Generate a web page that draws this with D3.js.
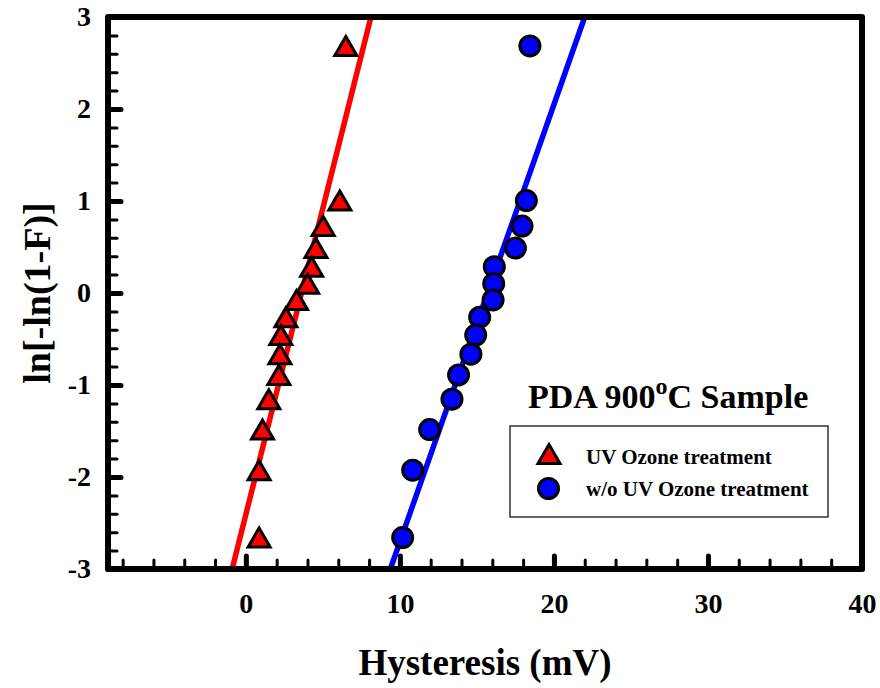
<!DOCTYPE html>
<html>
<head>
<meta charset="utf-8">
<script src="https://cdn.jsdelivr.net/npm/d3@7/dist/d3.min.js"></script>
<style>
  html, body { margin: 0; padding: 0; background: #fff; }
  svg { display: block; }
  text { font-family: "Liberation Serif", "Times New Roman", serif; font-weight: bold; fill: #000; }
</style>
</head>
<body>
<svg id="chart" width="880" height="688"></svg>
<script>
// Weibull plot values: ln[-ln(1-F)] for each rank, shared by both sample sets
const weibullY = [2.685, 1.005, 0.728, 0.489, 0.286, 0.101, -0.076, -0.263,
                  -0.457, -0.665, -0.891, -1.154, -1.484, -1.926, -2.658];

// Hysteresis (mV), one value per rank
const uvOzoneX   = [6.49, 6.10, 5.02, 4.55, 4.27, 4.01, 3.29, 2.60,
                    2.27, 2.21, 2.14, 1.49, 1.08, 0.86, 0.86];
const noUvOzoneX = [18.44, 18.21, 17.93, 17.50, 16.13, 16.09, 16.05, 15.18,
                    14.92, 14.61, 13.81, 13.38, 11.93, 10.83, 10.18];

// Linear fit lines, as [hysteresis, ln[-ln(1-F)]] end points
const uvOzoneFit   = [[-0.89, -3], [8.12, 3]];
const noUvOzoneFit = [[9.38, -3], [22.0, 3]];

const seriesNames = ["UV Ozone treatment", "w/o UV Ozone treatment"];
const xTickLabels = [0, 10, 20, 30, 40];
const yTickLabels = [-3, -2, -1, 0, 1, 2, 3];
const xDomain = [-8.95, 40];
const yDomain = [-3, 3];

const svg = d3.select("#chart");
const plotLeft = 108, plotRight = 862, plotTop = 17, plotBottom = 569;

const x = d3.scaleLinear().domain(xDomain).range([plotLeft, plotRight]);
const y = d3.scaleLinear().domain(yDomain).range([plotBottom, plotTop]);

// minor ticks
const xMinor = d3.range(-8, 40, 2).filter(v => v % 10 !== 0);
const yMinor = d3.range(-2.8, 3, 0.2).map(v => +v.toFixed(1)).filter(v => Math.abs(v - Math.round(v)) > 1e-6);

// plain hyphen for negative numbers
const fmt = d => String(d);

function styleTicks(g, width) {
  g.select(".domain").remove();
  g.selectAll(".tick line").attr("stroke", "#000").attr("stroke-width", width).attr("stroke-linecap", "round");
}

svg.append("g").attr("transform", `translate(0,${plotBottom})`)
  .call(d3.axisBottom(x).tickValues(xMinor).tickSizeInner(-9).tickSizeOuter(0).tickFormat(""))
  .call(g => styleTicks(g, 3));
svg.append("g").attr("transform", `translate(${plotLeft},0)`)
  .call(d3.axisLeft(y).tickValues(yMinor).tickSizeInner(-9).tickSizeOuter(0).tickFormat(""))
  .call(g => styleTicks(g, 3));

const xAxis = svg.append("g").attr("transform", `translate(0,${plotBottom})`)
  .call(d3.axisBottom(x).tickValues(xTickLabels).tickSizeInner(-13).tickSizeOuter(0).tickPadding(24).tickFormat(fmt))
  .call(g => styleTicks(g, 5));
xAxis.selectAll(".tick text").attr("font-size", 28).attr("font-family", "Liberation Serif").attr("font-weight", "bold").attr("fill", "#000");

const yAxis = svg.append("g").attr("transform", `translate(${plotLeft},0)`)
  .call(d3.axisLeft(y).tickValues(yTickLabels).tickSizeInner(-13).tickSizeOuter(0).tickPadding(17).tickFormat(fmt))
  .call(g => styleTicks(g, 5));
yAxis.selectAll(".tick text").attr("font-size", 28).attr("font-family", "Liberation Serif").attr("font-weight", "bold").attr("fill", "#000");

// fit lines
const line = d3.line().x(d => x(d[0])).y(d => y(d[1]));
svg.append("path").datum(uvOzoneFit).attr("d", line)
  .attr("fill", "none").attr("stroke", "#ff0000").attr("stroke-width", 5.5).attr("stroke-linecap", "round");
svg.append("path").datum(noUvOzoneFit).attr("d", line)
  .attr("fill", "none").attr("stroke", "#0000ff").attr("stroke-width", 5.5).attr("stroke-linecap", "round");

// triangle centred on its bounding box
function trianglePath(cx, cy) {
  const w = 22, h = 19;
  return `M${cx},${cy - h / 2}L${cx + w / 2},${cy + h / 2}L${cx - w / 2},${cy + h / 2}Z`;
}

const uvData = uvOzoneX.map((v, i) => ({ x: v, y: weibullY[i] }));
const noUvData = noUvOzoneX.map((v, i) => ({ x: v, y: weibullY[i] }));

svg.append("g").selectAll("path").data(uvData).join("path")
  .attr("d", d => trianglePath(x(d.x), y(d.y)))
  .attr("fill", "#ff0000").attr("stroke", "#000").attr("stroke-width", 3).attr("stroke-linejoin", "miter");

svg.append("g").selectAll("circle").data(noUvData).join("circle")
  .attr("cx", d => x(d.x)).attr("cy", d => y(d.y)).attr("r", 10)
  .attr("fill", "#0000ff").attr("stroke", "#000").attr("stroke-width", 3);

// frame
svg.append("rect").attr("x", plotLeft).attr("y", plotTop).attr("width", plotRight - plotLeft).attr("height", plotBottom - plotTop)
  .attr("fill", "none").attr("stroke", "#000").attr("stroke-width", 6).attr("stroke-linejoin", "round");

// axis titles
svg.append("text").attr("x", (plotLeft + plotRight) / 2).attr("y", 675).attr("text-anchor", "middle")
  .attr("font-size", 37).text("Hysteresis (mV)");
svg.append("text").attr("transform", `translate(50,${(plotTop + plotBottom) / 2}) rotate(-90)`)
  .attr("text-anchor", "middle").attr("font-size", 38).text("ln[-ln(1-F)]");

// sample title
const title = svg.append("text").attr("x", 528).attr("y", 408).attr("font-size", 34);
title.append("tspan").text("PDA 900");
title.append("tspan").attr("font-size", 24).attr("dy", -14).text("o");
title.append("tspan").attr("dy", 14).text("C Sample");

// legend
svg.append("rect").attr("x", 510).attr("y", 426).attr("width", 318).attr("height", 91)
  .attr("fill", "#fff").attr("stroke", "#333").attr("stroke-width", 1.5);
svg.append("path").attr("d", trianglePath(549, 454))
  .attr("fill", "#ff0000").attr("stroke", "#000").attr("stroke-width", 3);
svg.append("circle").attr("cx", 548.5).attr("cy", 488.5).attr("r", 10)
  .attr("fill", "#0000ff").attr("stroke", "#000").attr("stroke-width", 3);
svg.append("text").attr("x", 586).attr("y", 464).attr("font-size", 21).text(seriesNames[0]);
svg.append("text").attr("x", 586).attr("y", 496).attr("font-size", 21).text(seriesNames[1]);
</script>
</body>
</html>
